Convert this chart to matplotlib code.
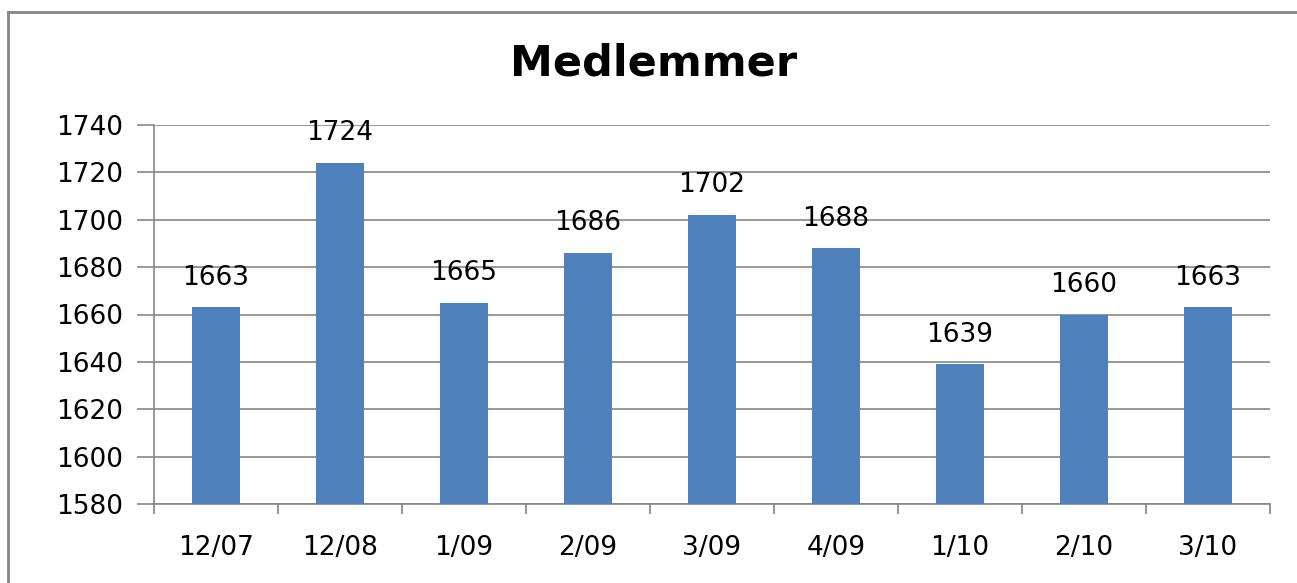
import matplotlib
matplotlib.use("Agg")
from matplotlib import pyplot as plt
from matplotlib.lines import Line2D
import numpy as np

periods = ["12/07", "12/08", "1/09", "2/09", "3/09", "4/09", "1/10", "2/10", "3/10"]
members = [1663, 1724, 1665, 1686, 1702, 1688, 1639, 1660, 1663]
y_ticks = [1580, 1600, 1620, 1640, 1660, 1680, 1700, 1720, 1740]

BAR_COLOR = "#4F81BD"
AXIS_COLOR = "#868686"


def main():
    fig = plt.figure(figsize=(12.97, 5.83), dpi=100)
    ax = fig.add_axes([154 / 1297, 1 - 504 / 583, (1270 - 154) / 1297, (504 - 125) / 583])

    x = np.arange(len(periods))
    ax.bar(x, members, width=0.38, color=BAR_COLOR, zorder=3)

    for xi, v in zip(x, members):
        ax.annotate(str(v), (xi, v), xytext=(0, 12), textcoords="offset points",
                    ha="center", va="bottom", fontsize=19)

    ax.set_xlim(-0.5, len(periods) - 0.5)
    ax.set_ylim(y_ticks[0], y_ticks[-1])
    ax.set_yticks(y_ticks)
    ax.set_xticks(x)
    ax.set_xticklabels(periods)
    ax.set_xticks(np.arange(-0.5, len(periods)), minor=True)
    ax.tick_params(axis="x", which="major", length=0, pad=22, labelsize=19)
    ax.tick_params(axis="x", which="minor", length=7, color=AXIS_COLOR, width=1.2)
    ax.tick_params(axis="y", length=12, color=AXIS_COLOR, width=1.2, pad=10, labelsize=19)

    ax.grid(axis="y", color=AXIS_COLOR, linewidth=1.2, zorder=0)
    for side in ["top", "right"]:
        ax.spines[side].set_visible(False)
    for side in ["left", "bottom"]:
        ax.spines[side].set_color(AXIS_COLOR)
        ax.spines[side].set_linewidth(1.2)

    fig.text(654 / 1297, 1 - 63 / 583, "Medlemmer", ha="center", va="center",
             fontsize=31, fontweight="bold")

    # chart frame: only the top and left edges fall inside the picture
    fig.lines.append(Line2D([8 / 1297, 1.0], [1 - 12 / 583, 1 - 12 / 583],
                            transform=fig.transFigure, color=AXIS_COLOR, linewidth=2))
    fig.lines.append(Line2D([8 / 1297, 8 / 1297], [0.0, 1 - 12 / 583],
                            transform=fig.transFigure, color=AXIS_COLOR, linewidth=2))

    fig.savefig("out.png", dpi=100)


if __name__ == "__main__":
    main()
